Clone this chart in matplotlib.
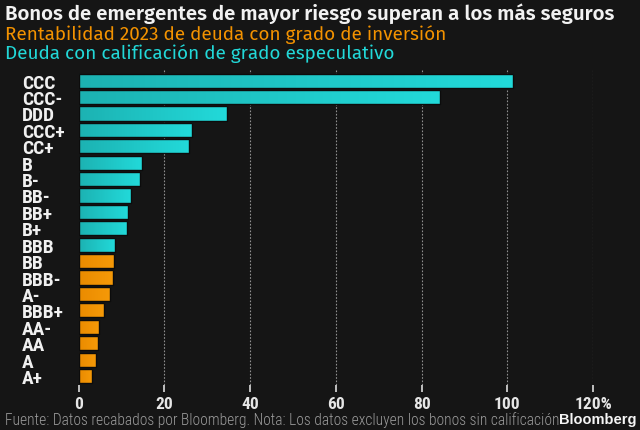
import numpy as np
import matplotlib
matplotlib.use("Agg")
import matplotlib.pyplot as plt
from matplotlib.colors import LinearSegmentedColormap

categories = ["CCC", "CCC-", "DDD", "CCC+", "CC+", "B", "B-", "BB-", "BB+", "B+",
              "BBB", "BB", "BBB-", "A-", "BBB+", "AA-", "AA", "A", "A+"]
values = [101.3, 84.4, 34.6, 26.5, 25.8, 14.7, 14.3, 12.2, 11.5, 11.4,
          8.5, 8.2, 8.0, 7.3, 6.0, 4.8, 4.5, 4.0, 3.1]
group = ["spec"] * 11 + ["inv"] * 8
xticks = [0, 20, 40, 60, 80, 100, 120]
xticklabels = ["0", "20", "40", "60", "80", "100", "120%"]

title = "Bonos de emergentes de mayor riesgo superan a los más seguros"
sub1 = "Rentabilidad 2023 de deuda con grado de inversión"
sub2 = "Deuda con calificación de grado especulativo"
note = "Fuente: Datos recabados por Bloomberg. Nota: Los datos excluyen los bonos sin calificación"

BG = "#151515"
TEAL = "#1fc7c7"
ORANGE = "#f39200"
font = ["Roboto Condensed", "DejaVu Sans"]
head = ["Fira Sans", "DejaVu Sans"]
plt.rcParams["font.family"] = font

fig = plt.figure(figsize=(6.4, 4.31), dpi=100, facecolor=BG)
W, H = 640, 431
ax = fig.add_axes([78.5 / W, 1 - 386 / H, (593 - 78.5) / W, (386 - 70) / H])
ax.set_facecolor(BG)

n = len(categories)
ypos = np.arange(n)[::-1]
colors = [TEAL if g == "spec" else ORANGE for g in group]
bars = ax.barh(ypos, values, height=0.86, color=colors, edgecolor="#0c0c0c",
               linewidth=1.0, zorder=3)

cm_teal = LinearSegmentedColormap.from_list("t", ["#1cb2b2", "#22dada"])
cm_or = LinearSegmentedColormap.from_list("o", ["#ea8b00", "#f69a08"])
grad = np.linspace(0, 1, 256).reshape(1, -1)
for b, g in zip(bars, group):
    x0, y0 = b.get_x(), b.get_y()
    w, h = b.get_width(), b.get_height()
    im = ax.imshow(grad, cmap=cm_teal if g == "spec" else cm_or, aspect="auto",
                   extent=[x0, x0 + w, y0, y0 + h], zorder=3.5,
                   interpolation="bilinear")
    im.set_clip_path(b)
    b.set_facecolor("none")
    b.set_zorder(4)

ax.set_xlim(0, 120)
ax.set_ylim(-0.55, n - 1 + 0.71)
ax.set_xticks(xticks)
ax.set_xticklabels(xticklabels, color="#e6e6e6", fontsize=12.5, fontweight="bold")
ax.tick_params(axis="x", length=5, width=1.2, color="#dddddd", pad=3)
ax.set_yticks(ypos)
ax.set_yticklabels(categories, color="#f0f0f0", fontsize=14, fontweight="bold")
ax.tick_params(axis="y", length=0, pad=56.5 * 72 / 100)
for lbl in ax.get_yticklabels():
    lbl.set_horizontalalignment("left")

for x in xticks[1:]:
    ax.axvline(x, color="#8f8f8f", linestyle=(0, (1.5, 1.5)), linewidth=0.8, zorder=1)
for s in ax.spines.values():
    s.set_visible(False)

fig.text(5 / W, 1 - 13.5 / H, title, color="#f2f2f2", fontsize=14.7, fontweight="semibold",
         va="center", ha="left", family=head)
fig.text(5 / W, 1 - 34.5 / H, sub1, color=ORANGE, fontsize=13.6, va="center", ha="left",
         family=head)
fig.text(5 / W, 1 - 53.5 / H, sub2, color="#22d8d8", fontsize=13.6, va="center", ha="left",
         family=head)
fig.text(5 / W, 1 - 420 / H, note, color="#9a9a9a", fontsize=11.2, fontweight="light",
         va="center", ha="left")
fig.text(637 / W, 1 - 420 / H, "Bloomberg", color="#f5f5f5", fontsize=10.5,
         fontweight="bold", va="center", ha="right", family=["Liberation Sans"])

fig.savefig("out.png", dpi=100, facecolor=BG)
